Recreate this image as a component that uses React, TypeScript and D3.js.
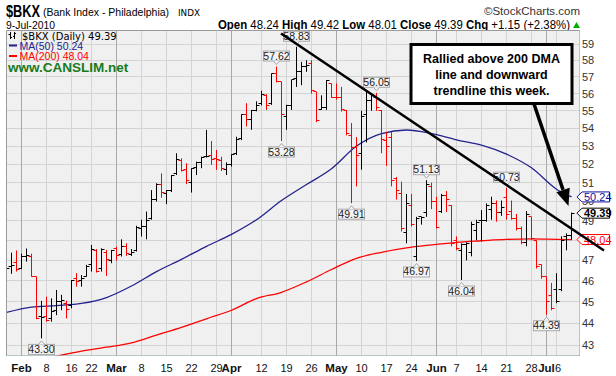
import React from "react";
import * as d3 from "d3";

// ---------- DATA ----------
const dates: string[] = [
  "2010-01-27","2010-01-28","2010-01-29",
  "2010-02-01","2010-02-02","2010-02-03","2010-02-04","2010-02-05",
  "2010-02-08","2010-02-09","2010-02-10","2010-02-11","2010-02-12",
  "2010-02-16","2010-02-17","2010-02-18","2010-02-19",
  "2010-02-22","2010-02-23","2010-02-24","2010-02-25","2010-02-26",
  "2010-03-01","2010-03-02","2010-03-03","2010-03-04","2010-03-05",
  "2010-03-08","2010-03-09","2010-03-10","2010-03-11","2010-03-12",
  "2010-03-15","2010-03-16","2010-03-17","2010-03-18","2010-03-19",
  "2010-03-22","2010-03-23","2010-03-24","2010-03-25","2010-03-26",
  "2010-03-29","2010-03-30","2010-03-31","2010-04-01",
  "2010-04-05","2010-04-06","2010-04-07","2010-04-08","2010-04-09",
  "2010-04-12","2010-04-13","2010-04-14","2010-04-15","2010-04-16",
  "2010-04-19","2010-04-20","2010-04-21","2010-04-22","2010-04-23",
  "2010-04-26","2010-04-27","2010-04-28","2010-04-29","2010-04-30",
  "2010-05-03","2010-05-04","2010-05-05","2010-05-06","2010-05-07",
  "2010-05-10","2010-05-11","2010-05-12","2010-05-13","2010-05-14",
  "2010-05-17","2010-05-18","2010-05-19","2010-05-20","2010-05-21",
  "2010-05-24","2010-05-25","2010-05-26","2010-05-27","2010-05-28",
  "2010-06-01","2010-06-02","2010-06-03","2010-06-04",
  "2010-06-07","2010-06-08","2010-06-09","2010-06-10","2010-06-11",
  "2010-06-14","2010-06-15","2010-06-16","2010-06-17","2010-06-18",
  "2010-06-21","2010-06-22","2010-06-23","2010-06-24","2010-06-25",
  "2010-06-28","2010-06-29","2010-06-30","2010-07-01","2010-07-02",
  "2010-07-06","2010-07-07","2010-07-08","2010-07-09",
];

const opens: number[] = [
  46.9,46.7,46.9,46.6,47.2,47.2,46.2,44.3,44.3,44.2,44.6,45.0,44.9,44.8,46.1,46.0,46.2,46.8,47.5,46.6,
  47.4,47.0,47.6,47.3,47.7,47.3,47.5,48.6,48.7,49.1,50.1,50.9,50.4,50.6,51.5,52.2,51.7,51.0,51.8,52.1,
  52.4,52.5,52.3,52.2,51.7,52.0,52.6,53.4,54.8,54.5,55.0,55.4,55.9,55.4,57.2,56.7,54.7,55.3,56.9,57.3,
  57.6,57.8,56.1,55.1,55.2,56.6,55.8,55.8,55.0,53.6,52.9,52.6,54.8,55.6,55.8,55.0,53.3,53.5,51.2,50.4,
  48.4,49.8,47.2,49.2,49.4,50.8,50.0,49.5,50.3,49.8,48.0,47.5,47.8,47.4,48.5,49.0,49.0,49.6,49.9,49.4,
  50.2,49.5,49.1,48.6,47.9,49.2,48.0,46.8,46.2,45.3,45.6,45.6,48.2,48.24,
];
const highs: number[] = [
  47.2,47.38,47.49,47.33,47.59,47.33,46.2,45.04,45.24,45.16,45.56,45.33,45.05,46.04,46.37,46.28,46.78,47.77,47.56,47.6,
  47.52,47.52,47.68,48.05,47.85,47.56,48.74,49.05,49.47,50.6,50.97,51.5,50.6,51.41,52.6,52.32,52.05,51.78,52.14,52.41,
  53.91,53.28,52.78,52.41,52.1,52.54,53.52,54.8,55.44,55.05,55.55,56.17,55.97,57.2,57.62,56.7,55.35,56.82,58.83,57.9,
  58.0,58.0,56.1,55.9,56.8,56.6,56.6,56.4,55.05,54.3,53.5,55.0,56.1,55.95,56.05,55.05,53.8,53.8,51.3,51.05,
  50.4,50.4,49.2,49.2,51.13,51.0,50.25,50.4,50.55,49.8,48.2,47.85,47.9,48.95,49.05,49.55,49.9,50.25,50.05,50.05,
  50.73,50.05,49.35,48.7,49.5,49.2,48.0,46.8,46.2,45.9,46.37,48.2,48.35,49.42,
];
const lows: number[] = [
  46.5,46.34,46.45,46.57,46.94,46.2,44.18,43.30,44.07,44.07,44.37,44.6,44.22,44.69,45.72,45.72,46.2,46.45,46.4,46.45,
  46.24,46.86,46.99,47.19,47.22,47.22,47.44,48.19,48.05,49.05,50.0,50.2,49.86,50.5,51.41,51.6,50.92,50.47,51.41,51.78,
  52.36,51.96,51.69,51.63,51.41,51.87,52.5,53.33,54.1,53.91,54.97,55.31,55.05,55.34,56.67,53.28,53.91,55.05,56.4,56.5,
  57.3,56.0,54.35,55.05,55.05,55.75,55.65,54.95,53.6,49.91,50.8,51.7,53.2,55.0,55.0,52.6,51.9,50.8,50.1,48.45,
  47.85,48.7,46.97,48.8,49.2,49.6,48.6,49.4,49.45,47.7,47.5,46.04,47.0,47.2,48.0,47.95,48.95,49.05,48.95,49.25,
  49.05,49.05,48.5,47.8,47.7,48.0,46.6,46.1,44.39,44.6,44.93,45.5,47.5,48.01,
];
const closes: number[] = [
  46.6,46.73,46.53,47.19,47.22,46.2,44.2,44.25,44.1,44.52,45.0,45.05,44.64,46.0,45.96,46.12,46.7,47.56,46.45,47.52,
  47.02,47.5,47.22,47.68,47.35,47.4,48.67,48.7,49.01,50.08,50.92,50.5,50.56,51.41,52.28,51.63,51.1,51.74,52.1,52.36,
  52.41,52.28,52.23,51.74,52.0,52.54,53.39,54.77,54.49,54.99,55.31,55.97,55.31,57.2,56.7,54.77,55.31,56.82,57.3,57.6,
  57.7,56.2,54.45,55.2,56.75,55.8,55.76,55.05,53.7,52.9,52.5,54.7,55.6,55.9,55.2,53.35,53.0,51.1,50.6,48.6,
  49.9,48.8,49.1,49.15,50.9,50.0,48.65,50.3,50.1,47.85,47.6,47.8,47.85,48.8,48.9,49.0,49.8,49.9,49.4,49.7,
  49.3,49.1,48.6,47.9,49.3,48.1,46.7,46.2,45.0,44.7,45.0,48.0,48.24,49.39,
];

// Moving averages at sample dates
const ma50Dates: string[] = [
  "2010-01-27","2010-02-03","2010-02-10","2010-02-18","2010-02-25","2010-03-04","2010-03-11","2010-03-18",
  "2010-03-25","2010-04-01","2010-04-09","2010-04-16","2010-04-23","2010-04-30","2010-05-07","2010-05-14",
  "2010-05-21","2010-05-28","2010-06-07","2010-06-14","2010-06-21","2010-06-28","2010-07-06","2010-07-09",
];
const ma50Values: number[] = [
  44.5,44.75,44.82,44.92,45.2,45.75,46.45,47.05,47.7,48.3,49.05,50.05,50.9,51.75,53.0,53.7,
  53.9,53.7,53.35,53.05,52.55,51.8,50.65,50.24,
];
const ma200Dates: string[] = ma50Dates;
const ma200Values: number[] = [
  42.2,42.35,42.5,42.72,42.9,43.1,43.45,43.8,44.2,44.6,45.15,45.45,45.95,46.55,47.1,47.4,
  47.62,47.77,47.9,47.98,48.05,48.07,48.05,48.04,
];

// x axis ticks
const tickDates: string[] = [
  "2010-02-01","2010-02-08","2010-02-16","2010-02-22","2010-03-01","2010-03-08","2010-03-15","2010-03-22",
  "2010-03-29","2010-04-01","2010-04-12","2010-04-19","2010-04-26","2010-05-03","2010-05-10","2010-05-17",
  "2010-05-24","2010-06-01","2010-06-07","2010-06-14","2010-06-21","2010-06-28","2010-07-01","2010-07-06",
];
const tickLabels: string[] = [
  "Feb","8","16","22","Mar","8","15","22","29","Apr","12","19","26","May","10","17","24","Jun","7","14","21","28","Jul","6",
];
const monthTicks: string[] = ["Feb", "Mar", "Apr", "May", "Jun", "Jul"];
const priceTicks: number[] = [43,44,45,46,47,48,49,50,51,52,53,54,55,56,57,58,59];

// annotated highs / lows
const noteDates: string[] = ["2010-02-05","2010-04-15","2010-04-16","2010-04-21","2010-05-06","2010-05-13","2010-05-25","2010-05-27","2010-06-08","2010-06-21","2010-07-01"];
const noteValues: number[] = [43.30,57.62,53.28,58.83,49.91,56.05,46.97,51.13,46.04,50.73,44.39];
const noteKinds: string[] = ["low","high","low","high","low","high","low","high","low","high","low"];

const lastClose = 49.39;
const ma50Last = 50.24;
const ma200Last = 48.04;
const annotationLines: string[] = ["Rallied above 200 DMA", "line and downward", "trendline this week."];

// ---------- LAYOUT ----------
const W = 616, H = 376;
const L = 6.5, R = 579.5, T = 30.5, B = 355.5;
const FONT = "'Liberation Sans', Arial, sans-serif";
const BLUE = "#23238e";
const RED = "#ff0000";

export default function App() {
  const idx = new Map(dates.map((d, i) => [d, i]));
  const x = d3.scaleLinear().domain([0, dates.length - 1]).range([6.5, 6.5 + 5 * (dates.length - 1)]);
  const y = d3.scaleLog().domain([59, 43]).range([44, 345]);
  const cx = (d: string) => x(idx.get(d) as number);
  const snap = (v: number) => Math.round(v - 0.5) + 0.5;

  const line = d3.line<[number, number]>().x((p) => p[0]).y((p) => p[1]).curve(d3.curveMonotoneX);
  const ma50Path = line(ma50Dates.map((d, i) => [cx(d), y(ma50Values[i])])) || "";
  const ma200Path = line(ma200Dates.map((d, i) => [cx(d), y(ma200Values[i])])) || "";

  // trend line & arrow
  const tl = { x1: 281, y1: 33.5, x2: 604, y2: 250.5 };
  const ar = { x1: 533, y1: 101, x2: 568.5, y2: 206 };
  const adx = ar.x2 - ar.x1, ady = ar.y2 - ar.y1, alen = Math.hypot(adx, ady);
  const ux = adx / alen, uy = ady / alen;
  const hl = 17, hw = 7;
  const bx = ar.x2 - ux * hl, by = ar.y2 - uy * hl;
  const head = `M${ar.x2},${ar.y2} L${bx - uy * hw},${by + ux * hw} L${bx + uy * hw},${by - ux * hw} Z`;

  const valueBox = (v: number, color: string, bold: boolean, key: string) => {
    const yc = y(v);
    const p = `M577,${yc} L582,${yc - 5} L609.5,${yc - 5} L609.5,${yc + 5} L582,${yc + 5} Z`;
    return (
      <g key={key}>
        <path d={p} fill="#fff" stroke={color} strokeWidth={1} />
        <text x={584} y={yc + 4} fontSize={11} fontFamily={FONT} fill={color} fontWeight={bold ? "bold" : "normal"}>
          {v.toFixed(2)}
        </text>
      </g>
    );
  };

  // axis labels that sit fully under a value box are hidden, as in the reference
  const hiddenTicks = [48];

  return (
    <svg width={W} height={H} style={{ display: "block", position: "absolute", left: 0, top: 0, background: "#fff" }}>
      <defs>
        <clipPath id="plot">
          <rect x={L} y={T} width={R - L} height={B - T} />
        </clipPath>
      </defs>

      {/* header */}
      <text x={6} y={17} fontSize={16} fontWeight="bold" fontFamily={FONT} textLength={34} lengthAdjust="spacingAndGlyphs">$BKX</text>
      <text x={43} y={16} fontSize={10.5} fontFamily={FONT}>(Bank Index - Philadelphia)</text>
      <text x={178} y={16} fontSize={9.5} fontFamily="'DejaVu Sans', sans-serif" textLength={22} lengthAdjust="spacingAndGlyphs">INDX</text>
      <text x={580} y={15} fontSize={11.5} fontFamily={FONT} textAnchor="end" fill="#333">©StockCharts.com</text>
      <text x={6} y={29} fontSize={11} fontFamily={FONT} textLength={49} lengthAdjust="spacingAndGlyphs">9-Jul-2010</text>
      <text x={218} y={29} fontSize={12} fontFamily={FONT} textLength={352} lengthAdjust="spacingAndGlyphs">
        <tspan fontWeight="bold">Open</tspan> 48.24 <tspan fontWeight="bold">High</tspan> 49.42{" "}
        <tspan fontWeight="bold">Low</tspan> 48.01 <tspan fontWeight="bold">Close</tspan> 49.39{" "}
        <tspan fontWeight="bold">Chg</tspan> +1.15 (+2.38%)
      </text>
      <path d="M573,28 L580,28 L576.5,22 Z" fill="#00b000" />

      {/* plot background */}
      <rect x={L} y={T} width={R - L} height={B - T} fill="#f0f0f0" />

      {/* grid */}
      {priceTicks.map((v) => (
        <line key={"h" + v} x1={L} x2={R} y1={snap(y(v))} y2={snap(y(v))} stroke="#d4d4d4" />
      ))}
      {tickDates.map((d, i) => (
        <line key={"v" + d} x1={cx(d)} x2={cx(d)} y1={T} y2={B}
          stroke={monthTicks.includes(tickLabels[i]) ? "#a8a8a8" : "#d4d4d4"} />
      ))}

      <g clipPath="url(#plot)">
        {/* moving averages */}
        <path d={ma200Path} fill="none" stroke={RED} strokeWidth={1.3} />
        <path d={ma50Path} fill="none" stroke={BLUE} strokeWidth={1.3} />
        {/* OHLC bars */}
        {dates.map((d, i) => {
          const up = i === 0 || closes[i] >= closes[i - 1];
          const c = up ? "#000" : "#ff0000";
          const xx = x(i);
          return (
            <g key={d} stroke={c} strokeWidth={1}>
              <line x1={xx} x2={xx} y1={y(highs[i])} y2={y(lows[i])} />
              <line x1={xx - 3} x2={xx} y1={snap(y(opens[i]))} y2={snap(y(opens[i]))} />
              <line x1={xx} x2={xx + 3} y1={snap(y(closes[i]))} y2={snap(y(closes[i]))} />
            </g>
          );
        })}
      </g>

      {/* high/low notes */}
      {noteDates.map((d, i) => {
        const xx = cx(d);
        const v = noteValues[i];
        const py = y(v);
        const high = noteKinds[i] === "high";
        const boxY = high ? Math.max(T + 0.5, py - 15.5) : py + 6;
        const tipY = high ? boxY + 10 : boxY;
        const tri = high
          ? `M${xx - 3},${tipY} L${xx},${tipY + 3.5} L${xx + 3},${tipY}`
          : `M${xx - 3},${tipY} L${xx},${tipY - 3.5} L${xx + 3},${tipY}`;
        return (
          <g key={"n" + d}>
            <rect x={xx - 13} y={boxY} width={26} height={10} fill="#f4f4f4" stroke="#a8a8a8" strokeWidth={1} />
            <path d={tri} fill="#f4f4f4" stroke="#a8a8a8" strokeWidth={1} />
            <text x={xx} y={boxY + 8.5} fontSize={10.5} fontFamily={FONT} textAnchor="middle" fill="#222">{v.toFixed(2)}</text>
          </g>
        );
      })}

      {/* frame */}
      <line x1={L} x2={L} y1={T} y2={B} stroke="#9a9a9a" />
      <line x1={L} x2={R} y1={T} y2={T} stroke="#9a9a9a" />
      <line x1={R} x2={R} y1={T} y2={B} stroke="#6f9a9a" strokeDasharray="1,1" />
      <line x1={L} x2={R} y1={B} y2={B} stroke="#6f9a9a" strokeDasharray="1,1" />

      {/* legend */}
      <g stroke="#000" strokeWidth={1}>
        <line x1={10.5} x2={10.5} y1={32} y2={39} />
        <line x1={8.5} x2={10.5} y1={34.5} y2={34.5} />
        <line x1={10.5} x2={12} y1={37.5} y2={37.5} />
        <line x1={14.5} x2={14.5} y1={32} y2={39} />
        <line x1={13} x2={14.5} y1={36.5} y2={36.5} />
        <line x1={14.5} x2={16} y1={33.5} y2={33.5} />
      </g>
      <text x={22} y={39.5} fontSize={10} fontFamily="'DejaVu Sans', sans-serif" fill="#000">$BKX (Daily) 49.39</text>
      <line x1={9} x2={17} y1={45.5} y2={45.5} stroke={BLUE} strokeWidth={2} />
      <text x={19.5} y={49.5} fontSize={10.5} fontFamily={FONT} fill={BLUE}>MA(50) 50.24</text>
      <line x1={9} x2={17} y1={56} y2={56} stroke={RED} strokeWidth={2} />
      <text x={19.5} y={60} fontSize={10.5} fontFamily={FONT} fill={RED}>MA(200) 48.04</text>
      <text x={8} y={71.5} fontSize={13.5} fontWeight="bold" fontFamily={FONT} fill="#1a7a1a">www.CANSLIM.net</text>

      {/* right axis */}
      {priceTicks.filter((v) => !hiddenTicks.includes(v)).map((v) => (
        <text key={"t" + v} x={582} y={y(v) + 4} fontSize={11} fontFamily={FONT} fill="#333">{v}</text>
      ))}
      {valueBox(ma50Last, "#1010a0", false, "vb50")}
      {valueBox(lastClose, "#000", true, "vbc")}
      {valueBox(ma200Last, RED, false, "vb200")}

      {/* bottom axis */}
      {tickDates.map((d, i) => {
        const isMonth = monthTicks.includes(tickLabels[i]);
        const xx = cx(d) + (tickLabels[i] === "6" ? 1.5 : 0);
        return (
          <text key={"x" + d} x={xx} y={372} fontSize={isMonth ? 11.5 : 11} fontWeight={isMonth ? "bold" : "normal"}
            fontFamily={FONT} textAnchor="middle" fill="#111">{tickLabels[i]}</text>
        );
      })}

      {/* trend line */}
      <line x1={tl.x1} y1={tl.y1} x2={tl.x2} y2={tl.y2} stroke="#000" strokeWidth={2.5} />

      {/* annotation */}
      <line x1={ar.x1} y1={ar.y1} x2={bx} y2={by} stroke="#000" strokeWidth={3.5} />
      <path d={head} fill="#000" />
      <rect x={411} y={44.5} width={161} height={59} fill="#fff" stroke="#000" strokeWidth={3} />
      {annotationLines.map((s, i) => (
        <text key={"a" + i} x={491.5} y={63 + i * 16} fontSize={12.5} fontWeight="bold" fontFamily={FONT} textAnchor="middle">{s}</text>
      ))}
    </svg>
  );
}
